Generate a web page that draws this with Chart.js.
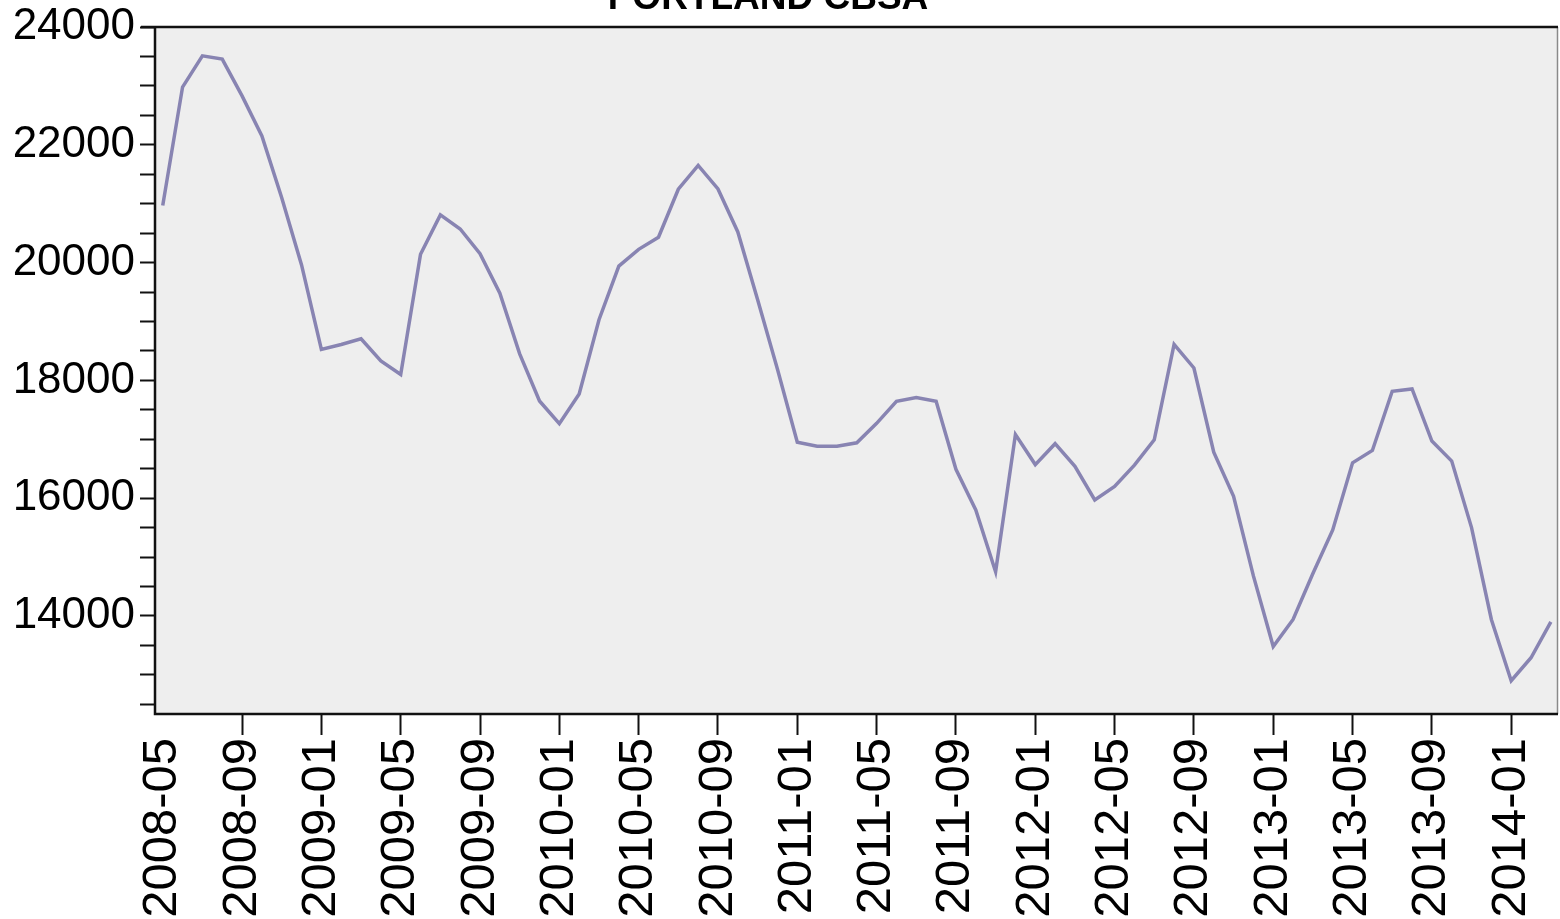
<!DOCTYPE html>
<html>
<head>
<meta charset="utf-8">
<script src="https://cdn.jsdelivr.net/npm/chart.js@4.4.1/dist/chart.umd.min.js"></script>
<style>
  html, body { margin: 0; padding: 0; background: #ffffff; overflow: hidden; }
  #wrap { position: absolute; left: 0; top: 0; width: 1560px; height: 919px; }
</style>
</head>
<body>
<div id="wrap"><canvas id="c" width="1560" height="919"></canvas></div>
<script>
// ---- data ----
const chartTitle = "PORTLAND CBSA";

const months = [
  "2008-05","2008-06","2008-07","2008-08","2008-09","2008-10","2008-11","2008-12",
  "2009-01","2009-02","2009-03","2009-04","2009-05","2009-06","2009-07","2009-08","2009-09","2009-10","2009-11","2009-12",
  "2010-01","2010-02","2010-03","2010-04","2010-05","2010-06","2010-07","2010-08","2010-09","2010-10","2010-11","2010-12",
  "2011-01","2011-02","2011-03","2011-04","2011-05","2011-06","2011-07","2011-08","2011-09","2011-10","2011-11","2011-12",
  "2012-01","2012-02","2012-03","2012-04","2012-05","2012-06","2012-07","2012-08","2012-09","2012-10","2012-11","2012-12",
  "2013-01","2013-02","2013-03","2013-04","2013-05","2013-06","2013-07","2013-08","2013-09","2013-10","2013-11","2013-12",
  "2014-01","2014-02","2014-03"
];

const values = [
  20970, 22980, 23510, 23455, 22830, 22150, 21100, 19960,
  18525, 18610, 18705, 18330, 18100, 20140, 20810, 20570, 20150, 19480, 18450, 17650,
  17265, 17770, 19030, 19940, 20225, 20430, 21245, 21650, 21250, 20520, 19370, 18190,
  16950, 16880, 16880, 16940, 17270, 17645, 17710, 17645, 16490, 15800, 14750, 17080,
  16570, 16925, 16540, 15970, 16200, 16560, 16990, 18610, 18210, 16780, 16030, 14680,
  13480, 13940, 14720, 15460, 16600, 16810, 17815, 17855, 16970, 16630, 15500, 13940,
  12900, 13290, 13900
];

const xTickLabels = [
  "2008-05","2008-09","2009-01","2009-05","2009-09","2010-01","2010-05","2010-09",
  "2011-01","2011-05","2011-09","2012-01","2012-05","2012-09","2013-01","2013-05",
  "2013-09","2014-01"
];

const yTicks = [
  12500, 13000, 13500, 14000, 14500, 15000, 15500, 16000, 16500, 17000, 17500, 18000,
  18500, 19000, 19500, 20000, 20500, 21000, 21500, 22000, 22500, 23000, 23500, 24000
];
const yLabelled = [14000, 16000, 18000, 20000, 22000, 24000];

// ---- chart ----
Chart.defaults.font.family = "'Liberation Sans', Arial, sans-serif";
Chart.defaults.color = "#000000";

const points = values.map((v, i) => ({ x: i, y: v }));

const framePlugin = {
  id: 'frame',
  beforeDatasetsDraw(chart) {
    const { ctx, chartArea: a } = chart;
    ctx.save();
    ctx.fillStyle = '#eeeeee';
    ctx.fillRect(a.left, a.top, a.right - a.left, a.bottom - a.top);
    ctx.restore();
  },
  afterDraw(chart) {
    const { ctx, chartArea: a } = chart;
    ctx.save();
    ctx.strokeStyle = '#8a8a8a';
    ctx.lineWidth = 1.5;
    ctx.beginPath();
    ctx.moveTo(a.right - 0.5, a.top);
    ctx.lineTo(a.right - 0.5, a.bottom);
    ctx.stroke();
    ctx.strokeStyle = '#111111';
    ctx.lineWidth = 2.5;
    ctx.beginPath();
    ctx.moveTo(a.left - 14, a.top);
    ctx.lineTo(a.right, a.top);
    ctx.moveTo(a.left, a.top);
    ctx.lineTo(a.left, a.bottom);
    ctx.lineTo(a.right, a.bottom);
    ctx.stroke();
    ctx.fillStyle = '#000000';
    ctx.font = "bold 37px 'Liberation Sans', Arial, sans-serif";
    ctx.textAlign = 'center';
    ctx.textBaseline = 'alphabetic';
    ctx.fillText(chartTitle, 768, 9);
    ctx.restore();
  }
};

new Chart(document.getElementById('c'), {
  type: 'line',
  data: {
    datasets: [{
      data: points,
      borderColor: 'rgb(136,132,178)',
      borderWidth: 3.5,
      pointRadius: 0,
      tension: 0,
      fill: false
    }]
  },
  options: {
    responsive: false,
    animation: false,
    devicePixelRatio: 1,
    layout: { padding: { top: 27, right: 2, left: 0, bottom: 0 } },
    plugins: { legend: { display: false }, tooltip: { enabled: false }, title: { display: false } },
    scales: {
      x: {
        type: 'linear',
        min: -0.39,
        max: 70.36,
        border: { display: false },
        grid: {
          drawOnChartArea: false,
          drawTicks: true,
          tickLength: 21,
          tickWidth: 2,
          tickColor: (c) => (c.tick && c.tick.value === 0) ? 'rgba(0,0,0,0)' : '#111111'
        },
        afterBuildTicks: (s) => {
          s.ticks = xTickLabels.map(l => ({ value: months.indexOf(l) }));
        },
        afterFit: (s) => { s.height = 205; s.paddingLeft = 0; s.paddingRight = 0; },
        ticks: {
          autoSkip: false,
          minRotation: 90,
          maxRotation: 90,
          padding: 3,
          color: '#000000',
          font: { size: 49, lineHeight: 1.0 },
          callback: (v) => months[v]
        }
      },
      y: {
        type: 'linear',
        min: 12335,
        max: 24000,
        border: { display: false },
        grid: {
          drawOnChartArea: false,
          drawTicks: true,
          tickLength: 15,
          tickWidth: 2,
          tickColor: '#111111'
        },
        afterBuildTicks: (s) => {
          s.ticks = yTicks.map(v => ({ value: v }));
        },
        afterFit: (s) => { s.width = 155; s.paddingTop = 0; s.paddingBottom = 0; },
        ticks: {
          autoSkip: false,
          padding: 5,
          color: '#000000',
          font: { size: 44, lineHeight: 1.0 },
          callback: (v) => yLabelled.includes(v) ? String(v) : ''
        }
      }
    }
  },
  plugins: [framePlugin]
});
</script>
</body>
</html>
